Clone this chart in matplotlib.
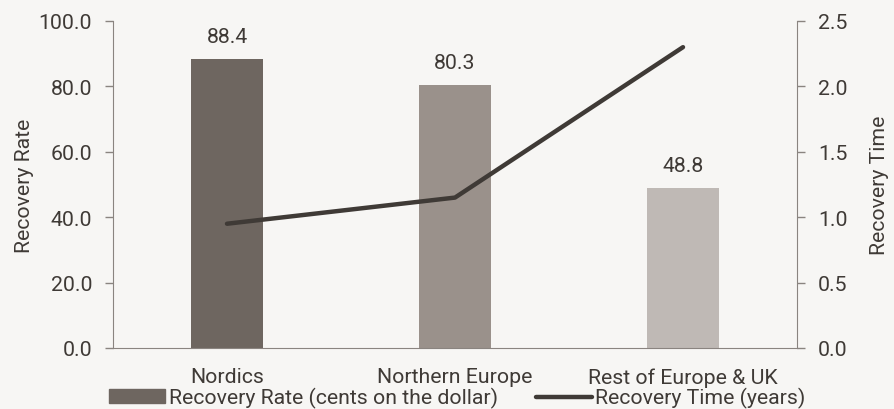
import matplotlib.pyplot as plt
import numpy as np
from matplotlib.lines import Line2D
from matplotlib.patches import Patch

regions = ["Nordics", "Northern Europe", "Rest of Europe & UK"]
recovery_rate = [88.4, 80.3, 48.8]
recovery_time = [0.95, 1.15, 2.30]
bar_colors = ["#6e6660", "#9a918b", "#bfb9b5"]

BG = "#f7f6f4"
TEXT = "#3f3a36"
SPINE = "#8a8480"
FS = 15.3

plt.rcParams["font.family"] = ["Roboto", "DejaVu Sans"]

fig = plt.figure(figsize=(8.94, 4.10), dpi=100, facecolor=BG)
ax = fig.add_axes([113 / 894, 1 - 349 / 410, (797 - 113) / 894, (349 - 22) / 410])
ax.set_facecolor(BG)
x = np.arange(len(regions))

ax.bar(x, recovery_rate, width=0.32, color=bar_colors, zorder=2)
for xi, v in zip(x, recovery_rate):
    ax.text(xi, v + 4, f"{v:.1f}", ha="center", va="bottom", fontsize=FS, color=TEXT)

ax.set_xlim(-0.5, 2.5)
ax.set_ylim(0, 100)
ax.set_yticks(np.arange(0, 101, 20))
ax.set_yticklabels([f"{t:.1f}" for t in np.arange(0, 101, 20)])
ax.set_xticks(x)
ax.set_xticklabels(regions)
ax.tick_params(axis="x", length=0, pad=14, labelsize=FS, colors=TEXT)
ax.tick_params(axis="y", length=6, width=1, color=SPINE, labelsize=FS, labelcolor=TEXT, pad=9)
ax.set_ylabel("Recovery Rate", fontsize=FS, color=TEXT, labelpad=3)
for s in ["top", "right"]:
    ax.spines[s].set_visible(False)
for s in ["left", "bottom"]:
    ax.spines[s].set_color(SPINE)

ax2 = ax.twinx()
ax2.plot(x, recovery_time, color="#3f3a36", lw=3.2, solid_capstyle="round", zorder=3)
ax2.set_ylim(0, 2.5)
ax2.set_yticks(np.arange(0, 2.51, 0.5))
ax2.set_yticklabels([f"{t:.1f}" for t in np.arange(0, 2.51, 0.5)])
ax2.tick_params(axis="y", length=6, width=1, color=SPINE, labelsize=FS, labelcolor=TEXT, pad=9)
ax2.set_ylabel("Recovery Time", fontsize=FS, color=TEXT, labelpad=16)
for s in ["top", "left", "bottom"]:
    ax2.spines[s].set_visible(False)
ax2.spines["right"].set_color(SPINE)

handles = [
    Patch(color=bar_colors[0]),
    Line2D([0], [0], color="#3f3a36", lw=3.2, solid_capstyle="round"),
]
labels = ["Recovery Rate (cents on the dollar)", "Recovery Time (years)"]
fig.legend(handles, labels, loc="lower left", bbox_to_anchor=(90 / 894, -0.045), ncol=2,
           frameon=False, fontsize=FS, handlelength=2.65, handleheight=0.6,
           handletextpad=0.15, columnspacing=1.8, labelcolor=TEXT)

fig.savefig("out.png", dpi=100, facecolor=BG)
